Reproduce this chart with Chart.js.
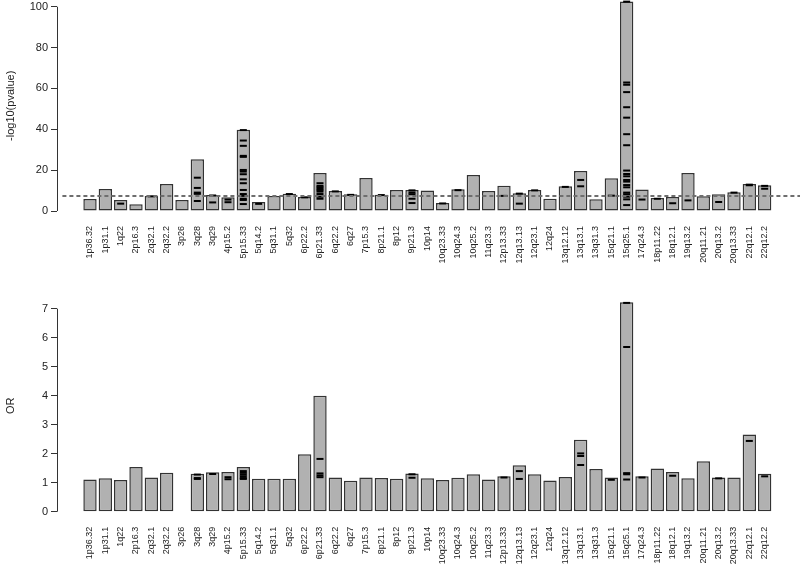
<!DOCTYPE html>
<html>
<head>
<meta charset="utf-8">
<script src="https://cdn.jsdelivr.net/npm/chart.js@4/dist/chart.umd.min.js"></script>
<style>
  html, body { margin: 0; padding: 0; background: #fff; }
  #wrap { position: relative; width: 800px; height: 567px; }
  .panel { position: absolute; left: 0; width: 800px; }
  #top { top: 0; height: 280px; }
  #bot { top: 280px; height: 287px; }
</style>
</head>
<body>
<div id="wrap">
  <div class="panel" id="top"><canvas id="c1"></canvas></div>
  <div class="panel" id="bot"><canvas id="c2"></canvas></div>
</div>
<script>
const categories = ['1p36.32','1p31.1','1q22','2p16.3','2q32.1','2q32.2','3p26','3q28','3q29','4p15.2',
  '5p15.33','5q14.2','5q31.1','5q32','6p22.2','6p21.33','6q22.2','6q27','7p15.3','8p21.1',
  '8p12','9p21.3','10p14','10q23.33','10q24.3','10q25.2','11q23.3','12p13.33','12q13.13','12q23.1',
  '12q24','13q12.12','13q13.1','13q31.3','15q21.1','15q25.1','17q24.3','18p11.22','18q12.1','19q13.2',
  '20q11.21','20q13.2','20q13.33','22q12.1','22q12.2'];

// -log10(p) of the lead SNP per region (bar heights)
const negLogP = [5.9,10.8,5.4,3.3,7.4,13.2,5.4,25.3,7.8,6.7,
  39.8,4.4,7.4,8.5,6.9,18.6,9.8,8.2,16.2,8.0,
  10.3,10.3,10.0,3.9,10.6,17.6,9.8,12.4,8.7,10.3,
  6.0,12.1,19.6,5.7,16.0,102.6,10.5,6.4,6.9,18.6,
  7.2,8.2,9.2,13.2,12.6];

// -log10(p) of other SNPs inside each region (short black marks)
const snpNegLogP = [
  [],[],[3.6],[],[7.2],[],[],[16.3,11.3,9.0,8.4,4.9],[7.6,4.2],[5.6,4.3],
  [39.6,34.5,31.9,27.0,26.5,20.1,19.3,18.0,15.5,13.6,10.3,8.3,7.4,6.0,5.4,3.4],[3.5],[],[8.3],[6.7],
  [13.6,12.3,11.6,11.0,10.3,9.5,8.3,7.0,6.0],[9.6],[7.9],[],[7.8],
  [],[10.1,9.0,8.2,6.0,3.9],[],[3.7],[10.2],[],[],[7.4],[8.5,3.6],[10.1],
  [],[11.8],[15.2,12.1],[],[7.5],
  [102.5,62.9,61.8,58.2,50.8,45.7,37.6,32.2,19.8,18.1,17.0,15.2,14.4,12.7,11.6,9.0,8.2,7.0,5.7,2.9],
  [5.6],[6.0],[3.8],[5.2],
  [],[4.4],[9.0],[12.9,12.6],[12.3,10.9]
];

// Odds ratio per region (bar heights); 3p26 has none
const oddsRatio = [1.11,1.15,1.09,1.54,1.18,1.34,null,1.31,1.36,1.37,
  1.54,1.14,1.14,1.14,1.98,4.0,1.18,1.07,1.18,1.16,
  1.14,1.32,1.15,1.09,1.17,1.29,1.11,1.22,1.60,1.29,
  1.08,1.20,2.48,1.47,1.18,7.22,1.22,1.49,1.37,1.15,
  1.74,1.18,1.18,2.66,1.31];

// OR of other SNPs inside each region
const snpOR = [
  [],[],[],[],[],[],[],[1.28,1.16,1.13],[1.30],[1.19,1.12],
  [1.40,1.34,1.28,1.22,1.16,1.13],[],[],[],[],
  [1.82,1.32,1.25,1.19],[],[],[],[],
  [],[1.29,1.17],[],[],[],[],[],[1.18],[1.40,1.13],[],
  [],[],[2.01,1.92,1.61],[],[1.10],
  [7.2,5.68,1.33,1.29,1.11],[1.18],[],[1.24],[],
  [],[1.15],[],[2.44],[1.22]
];

const pTicks = [0,20,40,60,80,100];
const orTicks = [0,1,2,3,4,5,6,7];
const threshold = 7.3;   // -log10(5e-8)

const FONT = "'Liberation Sans', Arial, Helvetica, sans-serif";
const TXT = '#222';

function toPts(arr){ return arr.map((v,i)=>({x:i, y:v})); }
function marks(list){ const out=[]; list.forEach((a,i)=>a.forEach(v=>out.push({x:i,y:v}))); return out; }

const axisPlugin = {
  id: 'rAxis',
  afterDraw(chart){
    const y = chart.scales.y, ctx = chart.ctx;
    const ticks = chart.options.plugins.rAxis.ticks;
    ctx.save();
    ctx.strokeStyle = '#333'; ctx.lineWidth = 1;
    ctx.beginPath();
    const x = Math.round(chart.chartArea.left) + 0.5;
    ctx.moveTo(x, y.getPixelForValue(ticks[0]));
    ctx.lineTo(x, y.getPixelForValue(ticks[ticks.length-1]));
    ctx.stroke();
    ctx.restore();
  }
};
const threshPlugin = {
  id: 'thresh',
  afterDatasetsDraw(chart){
    const o = chart.options.plugins.thresh;
    if (!o || o.value == null) return;
    const y = chart.scales.y.getPixelForValue(o.value);
    const xs = chart.scales.x;
    const ctx = chart.ctx;
    ctx.save();
    ctx.strokeStyle = '#6e6e6e'; ctx.lineWidth = 2; ctx.setLineDash([4,3]);
    ctx.beginPath();
    ctx.moveTo(xs.getPixelForValue(-1.8), y);
    ctx.lineTo(xs.getPixelForValue(46.4), y);
    ctx.stroke();
    ctx.restore();
  }
};

function makeChart(canvas, vals, snps, yTicks, yMax, title, padTop, xHeight, thresh){
  return new Chart(canvas, {
    type: 'bar',
    data: {
      datasets: [
        { type: 'line', data: marks(snps), showLine: false, pointStyle: 'line',
          pointRadius: 3.5, pointHoverRadius: 3.5, pointBorderWidth: 2,
          borderColor: '#000', backgroundColor: '#000', order: 0, clip: false },
        { type: 'bar', data: toPts(vals), backgroundColor: '#b1b1b1', borderColor: '#333',
          borderWidth: 1.5, borderSkipped: false, barPercentage: 0.87, categoryPercentage: 1.0, order: 1 }
      ]
    },
    options: {
      responsive: true, maintainAspectRatio: false, animation: false,
      layout: { autoPadding: false, padding: { top: padTop, right: 23, left: 0, bottom: 0 } },
      plugins: { legend: { display: false }, tooltip: { enabled: false },
        rAxis: { ticks: yTicks }, thresh: { value: thresh } },
      scales: {
        x: {
          type: 'linear', offset: false, bounds: 'data', min: -2.152, max: 44.805,
          afterBuildTicks: s => { s.ticks = categories.map((_, i) => ({ value: i })); },
          afterFit: s => { s.height = xHeight; s.paddingLeft = 0; s.paddingRight = 0; },
          grid: { display: false, offset: false }, border: { display: false },
          ticks: { autoSkip: false, maxRotation: 90, minRotation: 90, padding: 7,
            color: TXT, font: { family: FONT, size: 9 },
            callback: v => categories[v] }
        },
        y: {
          min: 0, max: yMax,
          afterBuildTicks: s => { s.ticks = yTicks.map(v => ({ value: v })); },
          afterFit: s => { s.width = 57; s.paddingTop = 0; s.paddingBottom = 0; },
          grid: { display: true, drawOnChartArea: false, drawTicks: true, tickLength: 6, color: '#333', lineWidth: 1 },
          border: { display: false },
          ticks: { padding: 3, color: TXT, font: { family: FONT, size: 11 } },
          title: { display: true, text: title, color: TXT, font: { family: FONT, size: 11 }, padding: { top: 4, bottom: 4 } }
        }
      }
    },
    plugins: [axisPlugin, threshPlugin]
  });
}

makeChart(document.getElementById('c1'), negLogP, snpNegLogP, pTicks, 103, '-log10(pvalue)', 0.6, 69, threshold);
makeChart(document.getElementById('c2'), oddsRatio, snpOR, orTicks, 7.3, 'OR', 20, 55.3, null);
</script>
</body>
</html>
